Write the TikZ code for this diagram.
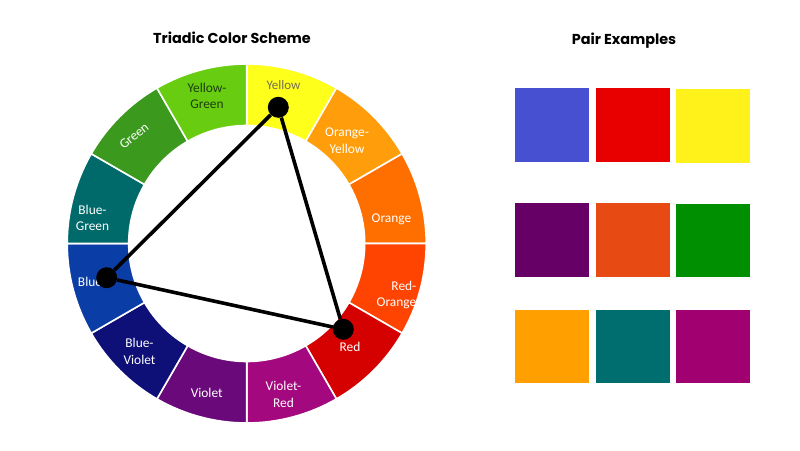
\documentclass[tikz,border=0pt]{standalone}
\usepackage{fontspec}
\setmainfont{Carlito}
\newfontfamily\titlefont{Poppins}
\begin{document}
\begin{tikzpicture}[x=1pt,y=1pt,
  seg/.style={draw=white,line width=1.6pt},
  lab/.style={text=white,align=center,inner sep=0pt,font=\fontsize{13.4}{16.7}\selectfont},
  ttl/.style={inner sep=0pt,font=\titlefont\bfseries\fontsize{14.4}{17}\selectfont},
  dot/.style={circle,fill=black,inner sep=0pt,minimum size=21pt},
  conn/.style={line width=3.6pt,black},
  sq/.style={inner sep=0pt,minimum width=74pt,minimum height=73.5pt}]
\definecolor{cY}{HTML}{FFFF1C}
\definecolor{cOY}{HTML}{FF9D0A}
\definecolor{cO}{HTML}{FF6F00}
\definecolor{cRO}{HTML}{FF4300}
\definecolor{cR}{HTML}{D50000}
\definecolor{cVR}{HTML}{A3087F}
\definecolor{cV}{HTML}{6A0A7A}
\definecolor{cBV}{HTML}{0E1078}
\definecolor{cB}{HTML}{0B3DA6}
\definecolor{cBG}{HTML}{006A6A}
\definecolor{cG}{HTML}{3B9A1D}
\definecolor{cYG}{HTML}{68CC10}
\definecolor{tY}{HTML}{736E4E}
\definecolor{tYG}{HTML}{1E3E0E}
\definecolor{sA}{HTML}{4650D0}
\definecolor{sB}{HTML}{E80000}
\definecolor{sC}{HTML}{FFF21A}
\definecolor{sD}{HTML}{660066}
\definecolor{sE}{HTML}{E84A14}
\definecolor{sF}{HTML}{008F00}
\definecolor{sG}{HTML}{FFA000}
\definecolor{sH}{HTML}{006E6E}
\definecolor{sI}{HTML}{A00070}
\fill[white] (0,0) rectangle (800,450);
\useasboundingbox (0,0) rectangle (800,450);
\begin{scope}[shift={(246.7,206.5)}]
\foreach \a/\c in {60/cY,30/cOY,0/cO,-30/cRO,-60/cR,-90/cVR,-120/cV,-150/cBV,180/cB,150/cBG,120/cG,90/cYG}{
  \filldraw[seg,fill=\c] (\a:179.5) arc[start angle=\a,end angle=\a+30,radius=179.5]
    -- (\a+30:118) arc[start angle=\a+30,end angle=\a,radius=118] -- cycle;
}
\end{scope}
\node[ttl] (t1) at (232,412) {Triadic Color Scheme};
\node[ttl] (t2) at (624,409.5) {Pair Examples};
\node[lab,text=tY,font=\fontsize{13}{16}\selectfont] (lY) at (283.5,365) {Yellow};
\node[lab,text=tYG] (lYG) at (207,354) {Yellow-\\Green};
\node[lab,rotate=39] (lG) at (134,314) {Green};
\node[lab] (lOY) at (347,309) {Orange-\\Yellow};
\node[lab] (lO) at (391.5,230.7) {Orange};
\node[lab,align=right,anchor=east] (lRO) at (416.5,155) {Red-\\Orange};
\node[lab] (lR) at (350,103.3) {Red};
\node[lab] (lVR) at (283.5,55.6) {Violet-\\Red};
\node[lab] (lV) at (206.7,57.3) {Violet};
\node[lab] (lBV) at (139.5,98.7) {Blue-\\Violet};
\node[lab] (lB) at (90,168) {Blue};
\node[lab] (lBG) at (92.5,232) {Blue-\\Green};
\node[dot] (dY) at (278.3,342.7) {};
\node[dot] (dB) at (106.7,172.3) {};
\node[dot] (dR) at (343.3,120.7) {};
\draw[conn] (dY) -- (dB);
\draw[conn] (dY) -- (dR);
\draw[conn] (dB) -- (dR);
\node[sq,fill=sA] (q1) at (551.7,325) {};
\node[sq,fill=sB] (q2) at (632.7,325) {};
\node[sq,fill=sC] (q3) at (713,324) {};
\node[sq,fill=sD] (q4) at (551.7,210) {};
\node[sq,fill=sE] (q5) at (632.7,210) {};
\node[sq,fill=sF] (q6) at (713,209.5) {};
\node[sq,fill=sG] (q7) at (551.7,103.5) {};
\node[sq,fill=sH] (q8) at (632.7,103.5) {};
\node[sq,fill=sI] (q9) at (713,103.5) {};
\end{tikzpicture}
\end{document}
